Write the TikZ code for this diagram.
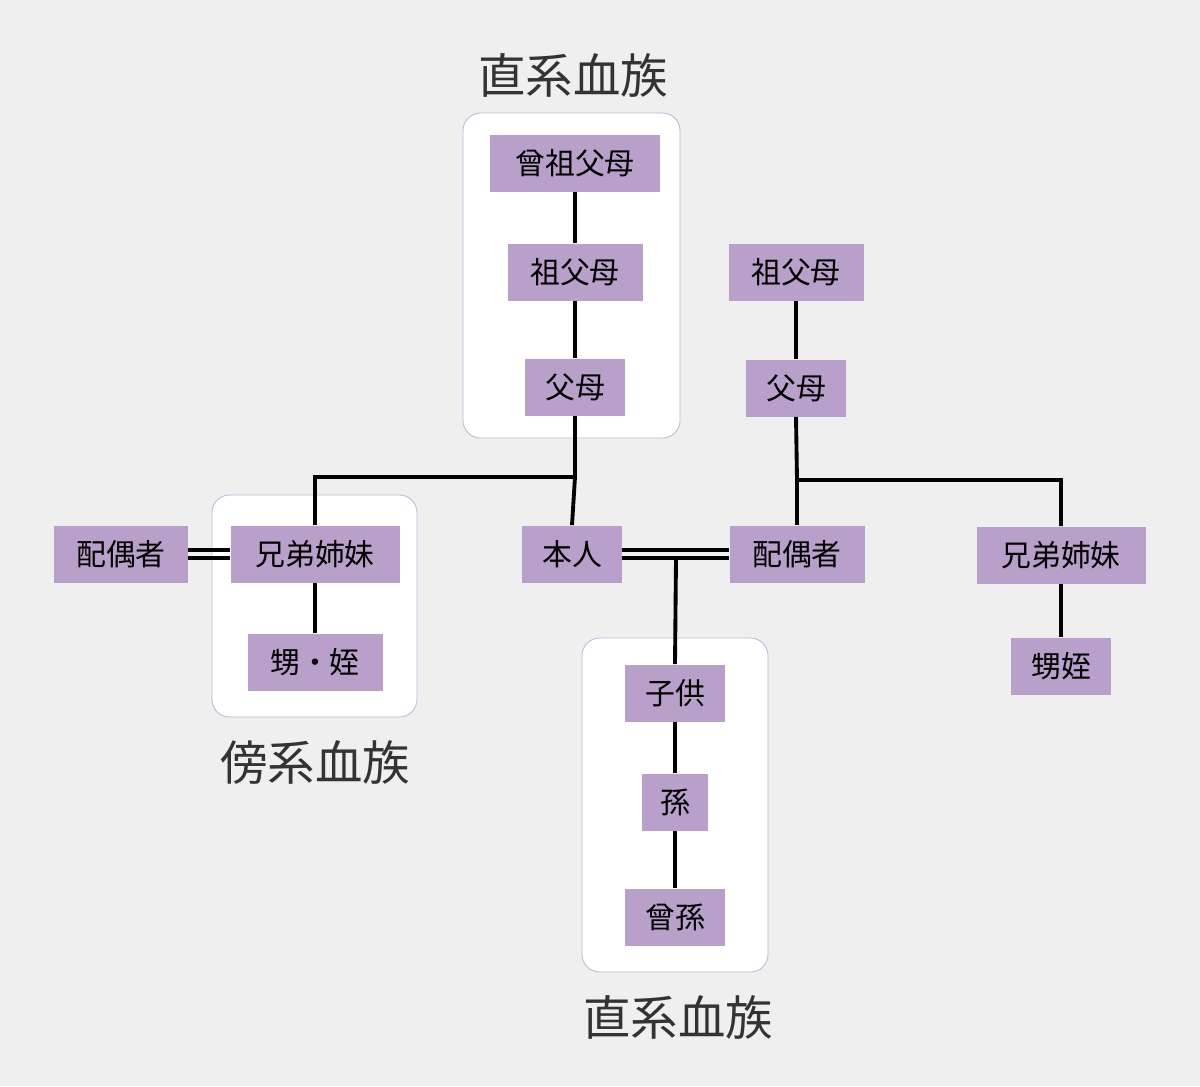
\documentclass[tikz,border=0pt]{standalone}
\usepackage{fontspec}
\setmainfont{Noto Sans CJK JP}
\definecolor{bg}{HTML}{EFEFEF}
\definecolor{pu}{HTML}{B9A0CA}
\definecolor{pb}{HTML}{C8B4D6}
\begin{document}
\begin{tikzpicture}[x=0.02cm,y=-0.02cm,
 bx/.style={fill=pu,minimum height=57*0.02cm,inner sep=0pt,font=\fontsize{17}{17}\selectfont},
 pan/.style={fill=white,draw=pb,rounded corners=10pt,line width=0.5pt},
 ln/.style={line width=2.2pt},
 ttl/.style={font=\fontsize{27}{27}\selectfont,text=black!80}]
\fill[bg] (0,0) rectangle (1200,1086);
\useasboundingbox (0,0) rectangle (1200,1086);
\draw[pan] (463,113) rectangle (680,438);
\draw[pan] (212,495) rectangle (417,717);
\draw[pan] (582,638) rectangle (768,972);
\node[ttl] (t1) at (573,75) {直系血族};
\node[ttl] (t2) at (315,762) {傍系血族};
\node[ttl] (t3) at (678,1017) {直系血族};
\node[bx,minimum width=170*0.02cm] (sg) at (575,163) {曾祖父母};
\node[bx,minimum width=135*0.02cm] (gp) at (575,272) {祖父母};
\node[bx,minimum width=100*0.02cm] (p) at (575,387) {父母};
\node[bx,minimum width=135*0.02cm] (gp2) at (796,272) {祖父母};
\node[bx,minimum width=100*0.02cm] (p2) at (796,388) {父母};
\node[bx,minimum width=134*0.02cm] (sp1) at (121,554) {配偶者};
\node[bx,minimum width=169*0.02cm] (sib) at (315,554) {兄弟姉妹};
\node[bx,minimum width=135*0.02cm] (nn) at (315,662) {甥・姪};
\node[bx,minimum width=100*0.02cm] (me) at (572,554) {本人};
\node[bx,minimum width=135*0.02cm] (sp) at (797,554) {配偶者};
\node[bx,minimum width=169*0.02cm] (sib2) at (1061,555) {兄弟姉妹};
\node[bx,minimum width=100*0.02cm] (nn2) at (1061,666) {甥姪};
\node[bx,minimum width=100*0.02cm] (c) at (675,693) {子供};
\node[bx,minimum width=66*0.02cm] (g) at (675,802) {孫};
\node[bx,minimum width=100*0.02cm] (gg) at (675,917) {曾孫};
\draw[ln] (sg) -- (gp);
\draw[ln] (gp) -- (p);
\draw[ln] (gp2) -- (p2);
\draw[ln] (p.south) -- (575,477) -| (sib.north);
\draw[ln] (575,477) -- (me.north);
\draw[ln] (p2.south) -- (797,480) -| (sib2.north);
\draw[ln] (797,480) -- (sp.north);
\draw[ln] (sib) -- (nn);
\draw[ln] (sib2) -- (nn2);
\draw[ln] (c) -- (g);
\draw[ln] (g) -- (gg);
\draw[ln] ([yshift=-4*0.02cm]me.east) -- ([yshift=-4*0.02cm]sp.west);
\draw[ln] ([yshift=4*0.02cm]me.east) -- ([yshift=4*0.02cm]sp.west);
\draw[ln] (676,558) -- (c.north);
\draw[ln] ([yshift=-4*0.02cm]sp1.east) -- ([yshift=-4*0.02cm]sib.west);
\draw[ln] ([yshift=4*0.02cm]sp1.east) -- ([yshift=4*0.02cm]sib.west);
\end{tikzpicture}
\end{document}
